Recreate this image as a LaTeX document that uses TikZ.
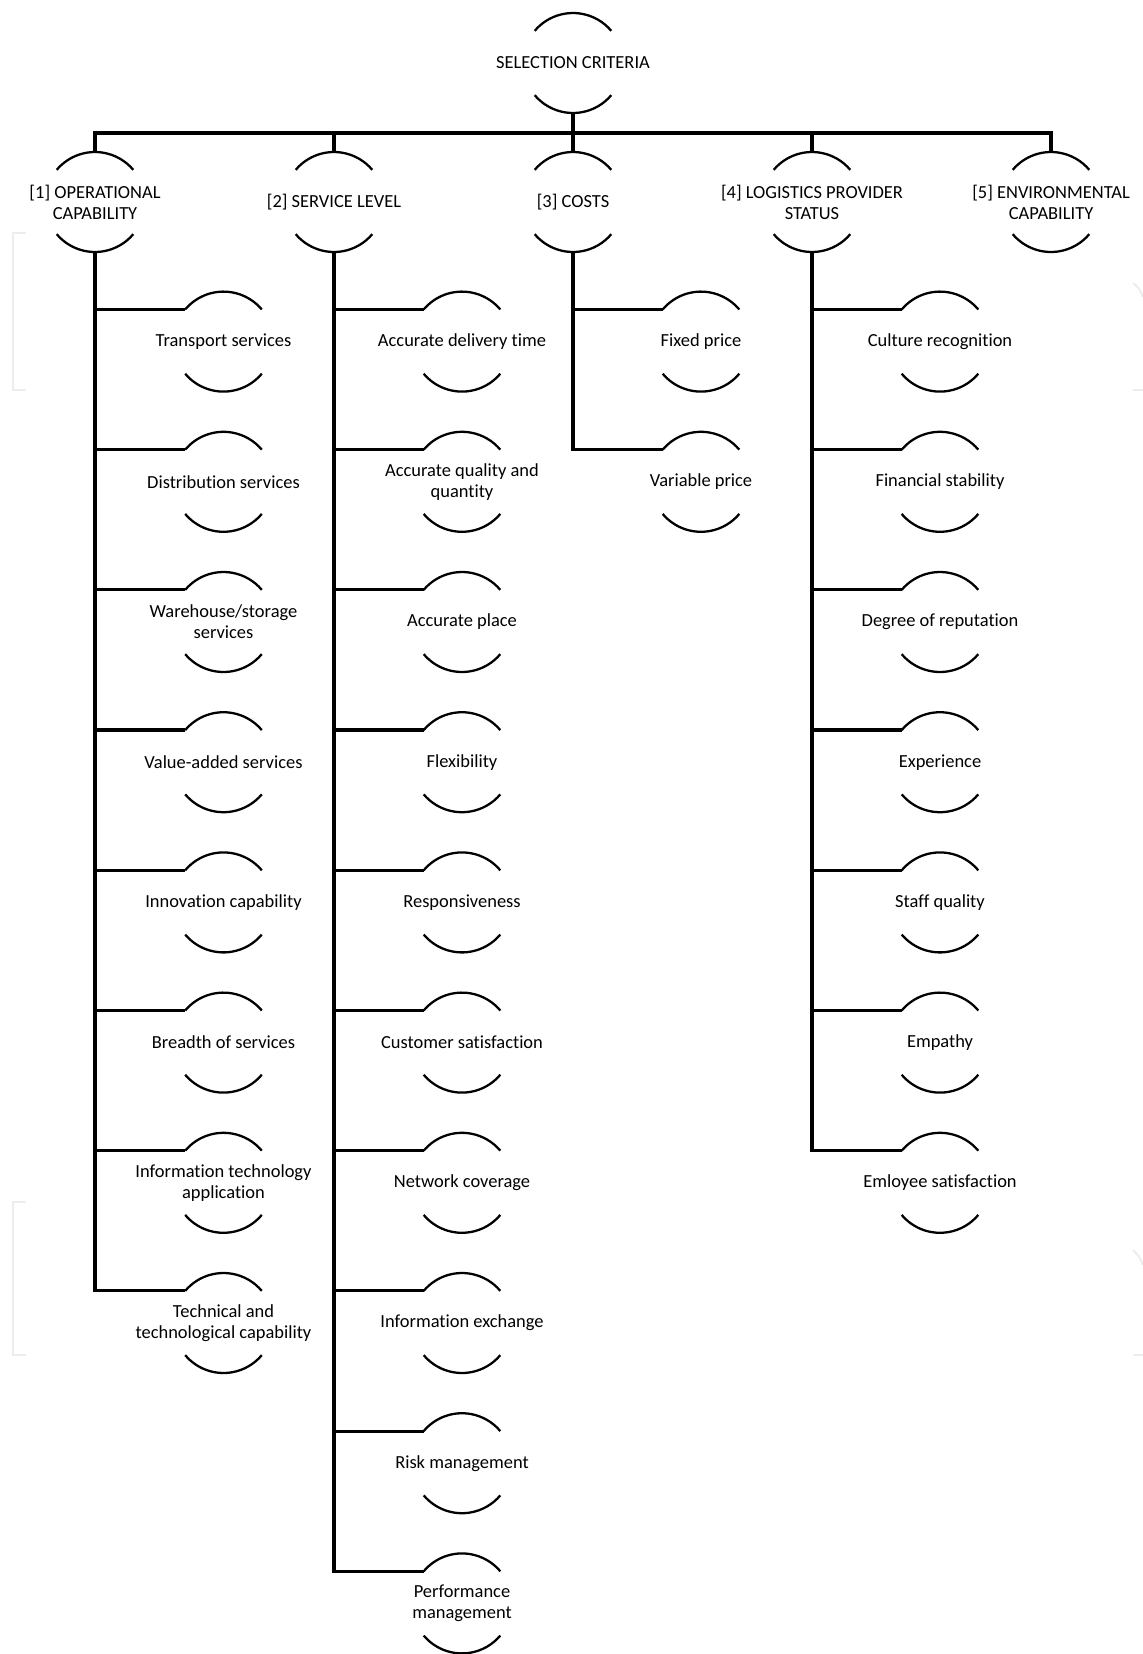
\documentclass[tikz,border=0pt]{standalone}
\usepackage{fontspec}
\setmainfont{Carlito}[Ligatures=NoCommon]
\usepackage{tikz}
\usetikzlibrary{calc, positioning}

\begin{document}
\begin{tikzpicture}[x=0.02cm, y=-0.02cm,
    crit/.style={align=center, inner sep=0pt, font=\fontsize{10.5}{12}\selectfont},
    critarc/.style={line width=1.3pt},
    branch/.style={line width=1.8pt},
    bus/.style={line width=2pt},
    ghost/.style={line width=1.2pt, black!7}]
      \useasboundingbox (0,0) rectangle (1143,1654);
      % faint frame marks
      \draw[ghost] (26,233) -- (13,233) -- (13,390) -- (26,390);
      \draw[ghost] (26,1202) -- (13,1202) -- (13,1355) -- (26,1355);
      \draw[ghost] (1133,283) .. controls (1139,288) .. (1143,297);
      \draw[ghost] (1133,390) -- (1143,390);
      \draw[ghost] (1133,1250) .. controls (1139,1256) .. (1143,1265);
      \draw[ghost] (1133,1355) -- (1143,1355);
      % top
      \node[crit] (sel) at (573,63) {SELECTION CRITERIA};
      % main criteria
      \node[crit] (op) at (95,202) {[1] OPERATIONAL\\CAPABILITY};
      \node[crit] (sl) at (334,202) {[2] SERVICE LEVEL};
      \node[crit] (co) at (573,202) {[3] COSTS};
      \node[crit] (lp) at (812,202) {[4] LOGISTICS PROVIDER\\STATUS};
      \node[crit] (env) at (1051,202) {[5] ENVIRONMENTAL\\CAPABILITY};
      % [1]
      \node[crit] (trans) at (223.5,341.6) {Transport services};
      \node[crit] (distr) at (223.5,481.8) {Distribution services};
      \node[crit] (wareh) at (223.5,622) {Warehouse/storage\\services};
      \node[crit] (valadd) at (223.5,762.2) {Value-added services};
      \node[crit] (innov) at (223.5,902.4) {Innovation capability};
      \node[crit] (breadth) at (223.5,1042.6) {Breadth of services};
      \node[crit] (infotech) at (223.5,1182.8) {Information technology\\application};
      \node[crit] (techcap) at (223.5,1323) {Technical and\\technological capability};
      % [2]
      \node[crit] (deltime) at (462,341.6) {Accurate delivery time};
      \node[crit] (qualqty) at (462,481.8) {Accurate quality and\\quantity};
      \node[crit] (place) at (462,622) {Accurate place};
      \node[crit] (flex) at (462,762.2) {Flexibility};
      \node[crit] (resp) at (462,902.4) {Responsiveness};
      \node[crit] (custsat) at (462,1042.6) {Customer satisfaction};
      \node[crit] (netcov) at (462,1182.8) {Network coverage};
      \node[crit] (infoex) at (462,1323) {Information exchange};
      \node[crit] (risk) at (462,1463.2) {Risk management};
      \node[crit] (perf) at (462,1603.4) {Performance\\management};
      % [3]
      \node[crit] (fixed) at (701,341.6) {Fixed price};
      \node[crit] (variable) at (701,481.8) {Variable price};
      % [4]
      \node[crit] (culture) at (940,341.6) {Culture recognition};
      \node[crit] (finstab) at (940,481.8) {Financial stability};
      \node[crit] (reput) at (940,622) {Degree of reputation};
      \node[crit] (exper) at (940,762.2) {Experience};
      \node[crit] (staff) at (940,902.4) {Staff quality};
      \node[crit] (empathy) at (940,1042.6) {Empathy};
      \node[crit] (empsat) at (940,1182.8) {Emloyee satisfaction};
      % arcs round every criterion
      \foreach \n in {sel,op,sl,co,lp,env,trans,distr,wareh,valadd,innov,breadth,infotech,techcap,
          deltime,qualqty,place,flex,resp,custsat,netcov,infoex,risk,perf,fixed,variable,
          culture,finstab,reput,exper,staff,empathy,empsat} {
        \coordinate (\n-in) at ($(\n)+(140:1cm)$);
        \coordinate (\n-top) at ($(\n)+(0pt,1cm)$);
        \coordinate (\n-out) at ($(\n)+(0pt,-1cm)$);
        \draw[critarc] (\n-in) arc[start angle=140, end angle=40, radius=1cm];
        \draw[critarc] ($(\n)+(220:1cm)$) arc[start angle=220, end angle=320, radius=1cm];
      }
      % bus
      \coordinate (busl) at (95,133);
      \draw[bus] (op-top) -- (op-top |- busl) -| (env-top);
      \draw[bus] (sel-out) -- (sel-out |- busl);
      \draw[bus] (sl-top) -- (sl-top |- busl);
      \draw[bus] (co-top) -- (co-top |- busl);
      \draw[bus] (lp-top) -- (lp-top |- busl);
      % branches
      \draw[branch] (op-out) |- (trans-in);
      \draw[branch] (op-out) |- (distr-in);
      \draw[branch] (op-out) |- (wareh-in);
      \draw[branch] (op-out) |- (valadd-in);
      \draw[branch] (op-out) |- (innov-in);
      \draw[branch] (op-out) |- (breadth-in);
      \draw[branch] (op-out) |- (infotech-in);
      \draw[branch] (op-out) |- (techcap-in);
      \draw[branch] (sl-out) |- (deltime-in);
      \draw[branch] (sl-out) |- (qualqty-in);
      \draw[branch] (sl-out) |- (place-in);
      \draw[branch] (sl-out) |- (flex-in);
      \draw[branch] (sl-out) |- (resp-in);
      \draw[branch] (sl-out) |- (custsat-in);
      \draw[branch] (sl-out) |- (netcov-in);
      \draw[branch] (sl-out) |- (infoex-in);
      \draw[branch] (sl-out) |- (risk-in);
      \draw[branch] (sl-out) |- (perf-in);
      \draw[branch] (co-out) |- (fixed-in);
      \draw[branch] (co-out) |- (variable-in);
      \draw[branch] (lp-out) |- (culture-in);
      \draw[branch] (lp-out) |- (finstab-in);
      \draw[branch] (lp-out) |- (reput-in);
      \draw[branch] (lp-out) |- (exper-in);
      \draw[branch] (lp-out) |- (staff-in);
      \draw[branch] (lp-out) |- (empathy-in);
      \draw[branch] (lp-out) |- (empsat-in);
\end{tikzpicture}
\end{document}
